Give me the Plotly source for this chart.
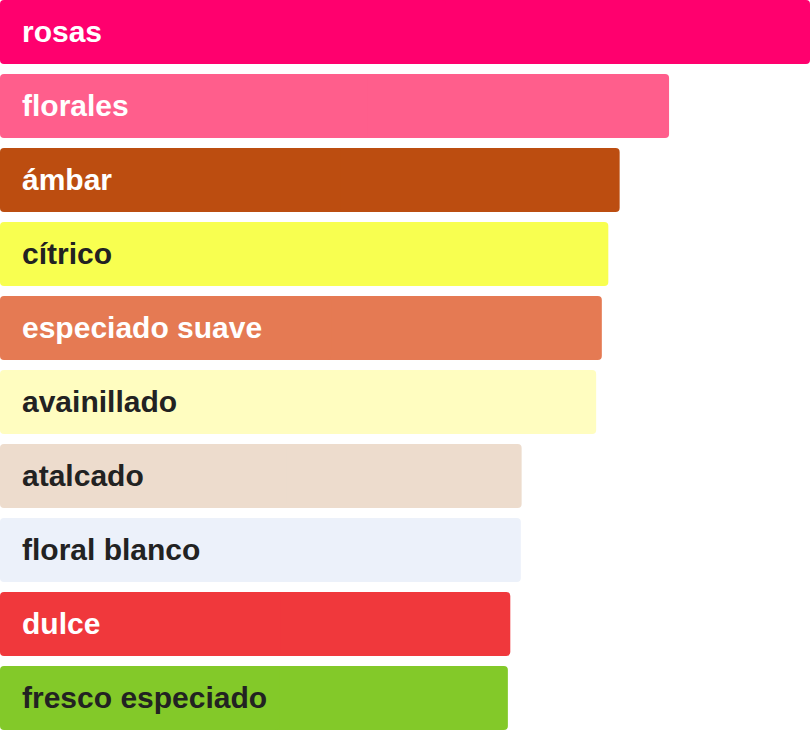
import plotly.graph_objects as go

# notas olfativas, largo relativo de cada barra
notas = ["rosas", "florales", "ámbar", "cítrico", "especiado suave",
         "avainillado", "atalcado", "floral blanco", "dulce", "fresco especiado"]
valores = [100, 82.6, 76.5, 75.1, 74.3, 73.6, 64.4, 64.3, 63.0, 62.7]
colores = ["#FF006E", "#FF5E8C", "#BC4D10", "#F8FF50", "#E57A53",
           "#FFFDC0", "#EDDCCD", "#ECF1FA", "#F0383C", "#83C929"]
color_texto = ["#FFFFFF", "#FFFFFF", "#FFFFFF", "#222222", "#FFFFFF",
               "#222222", "#222222", "#222222", "#FFFFFF", "#222222"]

# cada barra se dibuja en dos mitades solapadas para redondear ambos extremos
mitad_der = dict(base=[v * 0.45 for v in valores], x=[v * 0.55 for v in valores])
mitad_izq = dict(base=[v * 0.55 for v in valores], x=[-v * 0.55 for v in valores])

fig = go.Figure()
for mitad in (mitad_der, mitad_izq):
    fig.add_trace(go.Bar(
        y=notas, orientation="h", **mitad,
        marker=dict(color=colores, line_width=0),
        customdata=valores, hovertemplate="%{y}: %{customdata}<extra></extra>",
    ))

for nota, col in zip(notas, color_texto):
    fig.add_annotation(x=0, y=nota, text=nota, showarrow=False,
                       xanchor="left", xshift=20, yshift=1,
                       font=dict(family="Liberation Sans, Arial", size=30, color=col, weight="bold"))

# 74 px por categoría, barras de 64 px que empiezan en el borde superior
fig.update_layout(
    width=810, height=730, margin=dict(l=0, r=0, t=0, b=0),
    paper_bgcolor="white", plot_bgcolor="white",
    barmode="overlay", bargap=10 / 74, barcornerradius=4, showlegend=False,
    xaxis=dict(visible=False, range=[0, 100]),
    yaxis=dict(visible=False, range=[-32 / 74 + 730 / 74, -32 / 74]),
)

fig.write_html("out.html", config={"displayModeBar": False},
               post_script="document.body.style.margin='0';")
